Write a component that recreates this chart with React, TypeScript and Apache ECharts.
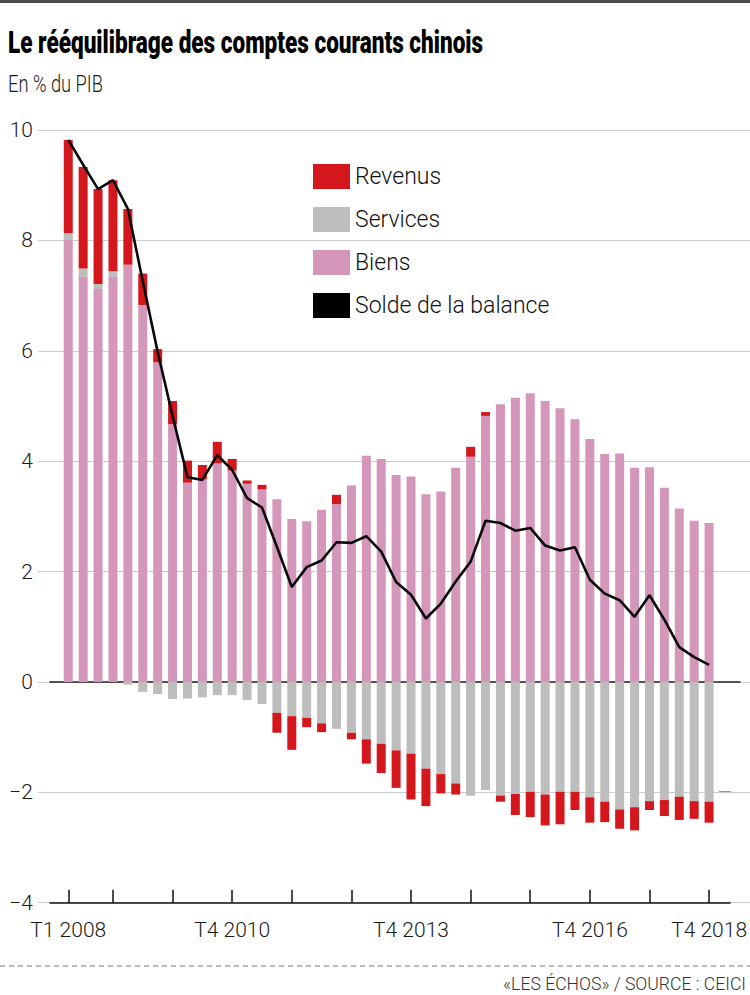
import React, { useEffect, useRef } from 'react';
import * as echarts from 'echarts';

const years = [2008, 2009, 2010, 2011, 2012, 2013, 2014, 2015, 2016, 2017, 2018];
const categories: string[] = [];
years.forEach((y) => [1, 2, 3, 4].forEach((q) => categories.push(`T${q} ${y}`)));
const shownLabels = ['T1 2008', 'T4 2010', 'T4 2013', 'T4 2016', 'T4 2018'];

const biens = [8.02, 7.34, 7.12, 7.34, 7.56, 6.83, 5.79, 4.67, 3.61, 3.67, 3.96, 3.83, 3.59, 3.49, 3.31, 2.95, 2.91, 3.12, 3.22, 3.56, 4.10, 4.04, 3.75, 3.72, 3.40, 3.45, 3.88, 4.08, 4.82, 5.03, 5.15, 5.23, 5.09, 4.96, 4.76, 4.40, 4.13, 4.14, 3.88, 3.89, 3.52, 3.14, 2.92, 2.88];
const services = [0.11, 0.15, 0.09, 0.10, -0.05, -0.18, -0.22, -0.31, -0.30, -0.28, -0.24, -0.24, -0.33, -0.40, -0.56, -0.62, -0.65, -0.75, -0.85, -0.92, -1.04, -1.12, -1.24, -1.30, -1.57, -1.67, -1.84, -2.06, -1.96, -2.06, -2.03, -1.99, -2.04, -1.99, -1.99, -2.09, -2.17, -2.31, -2.27, -2.16, -2.14, -2.08, -2.16, -2.17];
const revenus = [1.69, 1.84, 1.72, 1.65, 1.01, 0.57, 0.24, 0.42, 0.40, 0.26, 0.39, 0.21, 0.06, 0.08, -0.36, -0.61, -0.17, -0.16, 0.17, -0.12, -0.44, -0.53, -0.68, -0.83, -0.68, -0.35, -0.20, 0.18, 0.07, -0.11, -0.38, -0.46, -0.56, -0.59, -0.33, -0.46, -0.37, -0.35, -0.42, -0.16, -0.29, -0.42, -0.32, -0.38];
const solde = [9.82, 9.37, 8.93, 9.09, 8.57, 7.26, 5.98, 4.82, 3.71, 3.66, 4.11, 3.84, 3.33, 3.16, 2.45, 1.72, 2.08, 2.20, 2.53, 2.52, 2.64, 2.36, 1.81, 1.58, 1.15, 1.42, 1.82, 2.18, 2.92, 2.88, 2.74, 2.79, 2.47, 2.38, 2.44, 1.85, 1.60, 1.48, 1.18, 1.57, 1.13, 0.63, 0.45, 0.31];

const Y_MIN = -4;
const Y_MAX = 10;
const Y_INTERVAL = 2;

const TITLE = 'Le rééquilibrage des comptes courants chinois';
const SUBTITLE = 'En % du PIB';
const SOURCE = '«LES ÉCHOS» / SOURCE : CEICI';

const FONT = 'Roboto';
const C_BIENS = '#d497b9';
const C_SERV = '#bdbdbd';
const C_REV = '#d4171c';

function measure(text: string, font: string): number {
  const ctx = document.createElement('canvas').getContext('2d');
  if (!ctx) return 0;
  ctx.font = font;
  return ctx.measureText(text).width;
}

export default function App() {
  const ref = useRef<HTMLDivElement>(null);
  useEffect(() => {
    if (!ref.current) return;
    const chart = echarts.init(ref.current, null, { renderer: 'svg' });
    const TOP = 130;
    const BOTTOM = 92.3;
    const hiddenY = (gridIndex: number) => ({
      type: 'value', gridIndex, min: Y_MIN, max: Y_MAX, interval: Y_INTERVAL,
      axisLine: { show: false }, axisTick: { show: false }, axisLabel: { show: false }, splitLine: { show: false },
    });
    const hiddenX = (gridIndex: number) => ({
      type: 'value', gridIndex, min: 0, max: 1,
      axisLine: { show: false }, axisTick: { show: false }, axisLabel: { show: false }, splitLine: { show: false },
    });

    const titleFont = `900 31px ${FONT}`;
    const titleScale = 475 / (measure(TITLE, titleFont) || 475);
    const subScale = 95 / (measure(SUBTITLE, `300 23px ${FONT}`) || 95);
    const srcScale = 243 / (measure(SOURCE, `300 18px ${FONT}`) || 243);

    const option: any = {
      animation: false,
      backgroundColor: '#fff',
      textStyle: { fontFamily: FONT },
      grid: [
        { left: 60.8, right: 30.5, top: TOP, bottom: BOTTOM },
        { left: 38, right: 0, top: TOP, bottom: BOTTOM },
        { left: 50, right: 10, top: TOP, bottom: BOTTOM },
        { left: 50, right: 20, top: TOP, bottom: BOTTOM },
      ],
      xAxis: [
        {
          type: 'category', gridIndex: 0, data: categories, boundaryGap: true,
          axisLine: { show: true, onZero: false, lineStyle: { color: 'rgba(0,0,0,0)', width: 1 } },
          axisTick: {
            show: true, inside: true, length: 13, alignWithLabel: true,
            interval: (i: number, v: string) => i === 0 || String(v).startsWith('T4'),
            lineStyle: { color: '#111', width: 1.5 },
          },
          axisLabel: {
            show: true, interval: (i: number, v: string) => shownLabels.includes(v),
            fontSize: 21, fontWeight: 300, fontFamily: FONT, color: '#1a1a1a', margin: 17,
          },
          splitLine: { show: false },
          z: 6,
        },
        hiddenX(1),
        { ...hiddenX(2), axisLine: { show: true, onZero: true, lineStyle: { color: '#222', width: 1.5 } } },
        { ...hiddenX(3), axisLine: { show: true, onZero: false, lineStyle: { color: '#111', width: 1.5 } } },
      ],
      yAxis: [
        hiddenY(0),
        {
          type: 'value', gridIndex: 1, min: Y_MIN, max: Y_MAX, interval: Y_INTERVAL,
          axisLine: { show: false }, axisTick: { show: false },
          axisLabel: {
            show: true, margin: 5, fontSize: 21, fontWeight: 300, fontFamily: FONT, color: '#1a1a1a',
            verticalAlign: 'middle', padding: [0, 0, 10, 0],
            formatter: (v: number) => (v < 0 ? '\u2212' + Math.abs(v) : String(v)),
          },
          splitLine: { show: true, lineStyle: { color: '#cccccc', width: 1 } },
        },
        hiddenY(2),
        hiddenY(3),
      ],
      legend: {
        orient: 'vertical', left: 313, top: 164, itemWidth: 37, itemHeight: 25, itemGap: 18, padding: 0,
        textStyle: { fontSize: 23, fontWeight: 300, fontFamily: FONT, color: '#111' },
        data: [
          { name: 'Revenus', icon: 'rect' },
          { name: 'Services', icon: 'rect' },
          { name: 'Biens', icon: 'rect' },
          { name: 'Solde de la balance', icon: 'rect' },
        ],
        selectedMode: false,
      },
      series: [
        { name: 'Biens', type: 'bar', stack: 'tot', barWidth: 9, data: biens, itemStyle: { color: C_BIENS }, z: 2 },
        { name: 'Services', type: 'bar', stack: 'tot', barWidth: 9, data: services, itemStyle: { color: C_SERV }, z: 2 },
        { name: 'Revenus', type: 'bar', stack: 'tot', barWidth: 9, data: revenus, itemStyle: { color: C_REV }, z: 2 },
        {
          name: 'Solde de la balance', type: 'line', data: solde, symbol: 'none', color: '#000',
          itemStyle: { color: '#000' }, lineStyle: { color: '#0a0a0a', width: 2.6 }, z: 5,
        },
      ],
      graphic: [
        { type: 'rect', shape: { x: 0, y: 0, width: 750, height: 3 }, style: { fill: '#4a4a4a' } },
        {
          type: 'text', x: 8, y: 43, scaleX: titleScale,
          style: { text: TITLE, font: titleFont, fontSize: 31, fontWeight: 900, fontFamily: FONT, fill: '#000', verticalAlign: 'middle', textVerticalAlign: 'middle' },
        },
        {
          type: 'text', x: 8, y: 84, scaleX: subScale,
          style: { text: SUBTITLE, fontSize: 23, fontWeight: 300, fontFamily: FONT, fill: '#1a1a1a', verticalAlign: 'middle', textVerticalAlign: 'middle' },
        },
        {
          type: 'line', shape: { x1: 0, y1: 966, x2: 750, y2: 966 },
          style: { stroke: '#777', lineWidth: 1, lineDash: [5, 4] },
        },
        {
          type: 'text', x: 746, y: 983, scaleX: srcScale,
          style: { text: SOURCE, fontSize: 18, fontWeight: 300, fontFamily: FONT, fill: '#333', align: 'right', textAlign: 'right', verticalAlign: 'middle', textVerticalAlign: 'middle' },
        },
      ],
    };
    chart.setOption(option);
    const yMinus2 = chart.convertToPixel({ yAxisIndex: 1 }, -2) as number;
    chart.setOption({
      graphic: [
        ...option.graphic,
        { type: 'line', shape: { x1: 719, y1: yMinus2, x2: 731, y2: yMinus2 }, style: { stroke: '#111', lineWidth: 1.5 } },
      ],
    });
    return () => chart.dispose();
  }, []);
  return <div ref={ref} style={{ position: 'absolute', left: 0, top: 0, width: 750, height: 995 }} />;
}
